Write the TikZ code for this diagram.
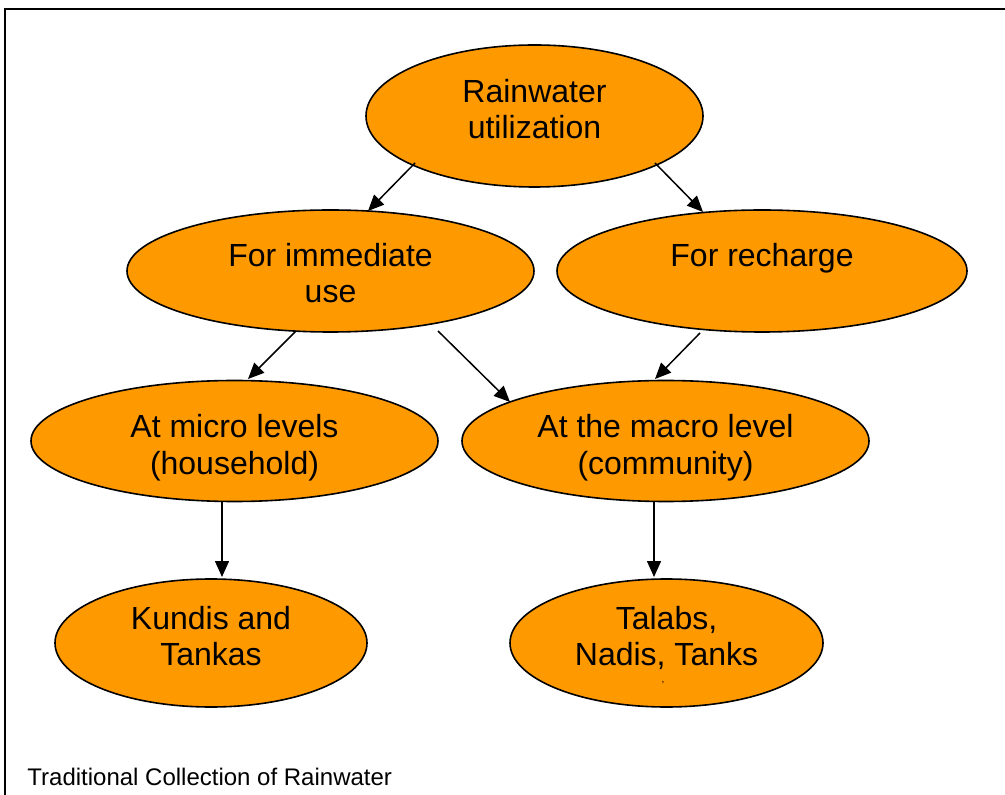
\documentclass[tikz,border=0pt]{standalone}
\usepackage{fontspec}
\setmainfont{Liberation Sans}
\usetikzlibrary{shapes.geometric,arrows.meta,calc}
\definecolor{nodeorange}{RGB}{255,153,0}
\tikzset{
  ell/.style={ellipse, draw=black, fill=nodeorange, line width=0.8pt, inner sep=0pt},
  lbl/.style={font=\fontsize{16}{18.4}\selectfont, align=center},
  conn/.style={-{Triangle[length=8pt,width=7pt]}, line width=0.75pt},
}
\begin{document}
\begin{tikzpicture}[x=0.5pt,y=-0.5pt]
\useasboundingbox (0,0) rectangle (1005,795);
\draw[line width=0.8pt] (5,800) -- (5,9) -- (1010,9);

\node[ell, minimum width=168.5pt, minimum height=71pt,
  label={[lbl,yshift=3.5pt]center:Rainwater\\utilization}] (R) at (534.5,116) {};
\node[ell, minimum width=203.5pt, minimum height=61pt,
  label={[lbl,yshift=-1pt]center:For immediate\\use}] (I) at (330.5,271) {};
\node[ell, minimum width=205pt, minimum height=61pt,
  label={[lbl,yshift=6.5pt]center:For recharge}] (C) at (762,271) {};
\node[ell, minimum width=203.5pt, minimum height=60.5pt,
  label={[lbl,yshift=-3.5pt]center:At micro levels\\(household)}] (M) at (234.5,441) {};
\node[ell, minimum width=203.5pt, minimum height=60.5pt,
  label={[lbl,yshift=-3.5pt]center:At the macro level\\(community)}] (A) at (665.5,441) {};
\node[ell, minimum width=156pt, minimum height=64pt,
  label={[lbl,yshift=3.5pt]center:Kundis and\\Tankas}] (K) at (211,643) {};
\node[ell, minimum width=156.5pt, minimum height=64pt,
  label={[lbl,yshift=2.5pt]center:Talabs,\\Nadis, Tanks}] (T) at (666.5,643) {};
\node[font=\fontsize{5}{5}\selectfont, inner sep=0pt] (dot) at ($(T)+(-3.5,40)$) {,};

\draw[conn] ($(R)+(-119.5,47)$) -- ($(I)+(37.5,-60)$);
\draw[conn] ($(R)+(120.5,47)$) -- ($(C)+(-59,-59)$);
\draw[conn] ($(I)+(-34.5,60)$) -- ($(M)+(13.5,-62)$);
\draw[conn] ($(I)+(107.5,60)$) -- ($(A)+(-155.5,-39)$);
\draw[conn] ($(C)+(-62,62)$) -- ($(A)+(-10.5,-62)$);
\draw[conn] ($(M)+(-12.5,61)$) -- ($(K)+(11,-66)$);
\draw[conn] ($(A)+(-11.5,61)$) -- ($(T)+(-12.5,-66)$);

\node[font=\fontsize{12}{14}\selectfont, anchor=base west, inner sep=0pt] (cap) at (27,785) {Traditional Collection of Rainwater};
\end{tikzpicture}
\end{document}
